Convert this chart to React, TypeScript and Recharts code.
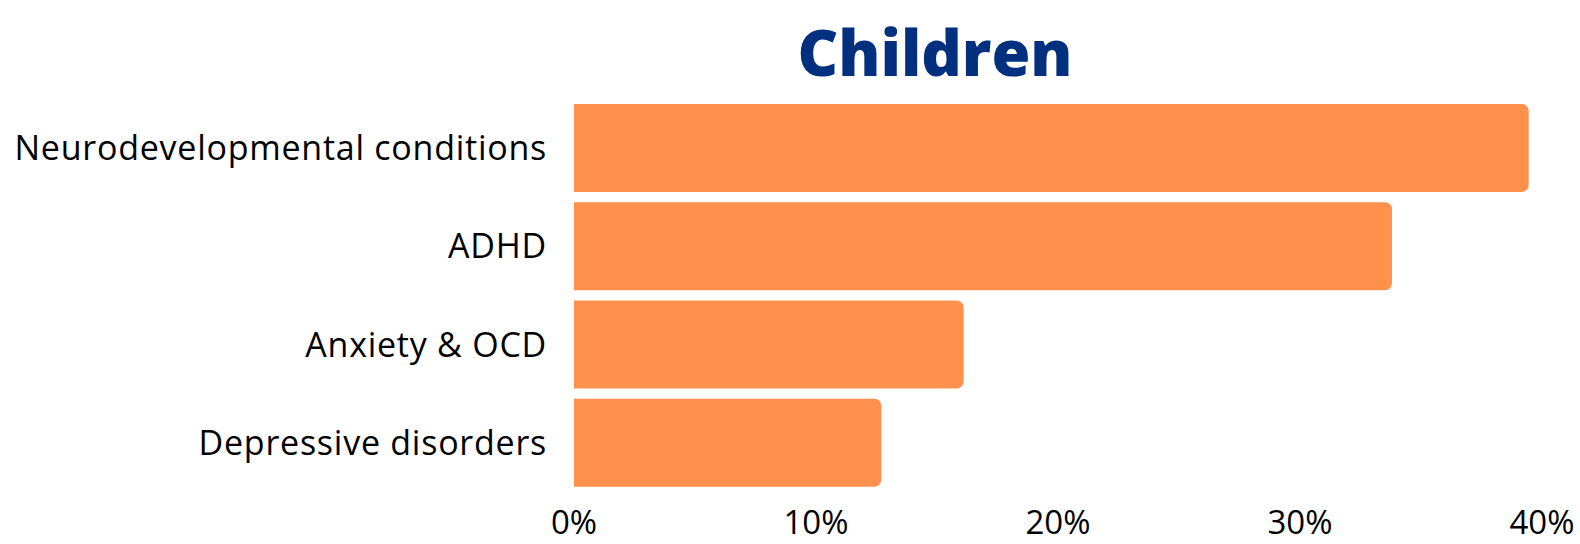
import React from 'react';
import { BarChart, Bar, XAxis, YAxis } from 'recharts';

const categories = ['Neurodevelopmental conditions', 'ADHD', 'Anxiety & OCD', 'Depressive disorders'];
const shares = [39.45, 33.8, 16.1, 12.7];
const xTicks = [0, 10, 20, 30, 40];

const data = categories.map((name, i) => ({ name, value: shares[i] }));

const FONT = '"Open Sans", "Noto Sans", sans-serif';

const App: React.FC = () => {
  return (
    <div style={{ position: 'absolute', left: 0, top: 0, width: 1580, height: 544, background: '#fff' }}>
      <div
        style={{
          position: 'absolute',
          left: 0,
          width: 1870,
          top: 10,
          textAlign: 'center',
          fontFamily: FONT,
          fontWeight: 800,
          fontSize: 63,
          lineHeight: '84px',
          color: '#02307f',
        }}
      >
        Children
      </div>
      <BarChart
        width={1580}
        height={544}
        layout="vertical"
        data={data}
        margin={{ top: 99, right: 38, bottom: 0, left: 0 }}
        barCategoryGap={5}
      >
        <XAxis
          type="number"
          domain={[0, 40]}
          ticks={xTicks}
          tickFormatter={(v: number) => `${v}%`}
          axisLine={false}
          tickLine={false}
          tickSize={0}
          tickMargin={19}
          height={52}
          tick={{ fill: '#000', fontSize: 33, fontFamily: FONT }}
          interval={0}
        />
        <YAxis
          type="category"
          dataKey="name"
          width={574}
          axisLine={false}
          tickLine={false}
          tickSize={0}
          tickMargin={27}
          tick={{ fill: '#000', fontSize: 34, fontFamily: FONT, letterSpacing: 0.75 }}
          interval={0}
        />
        <Bar dataKey="value" fill="#ff914d" radius={[0, 7, 7, 0]} isAnimationActive={false} />
      </BarChart>
    </div>
  );
};

export default App;
